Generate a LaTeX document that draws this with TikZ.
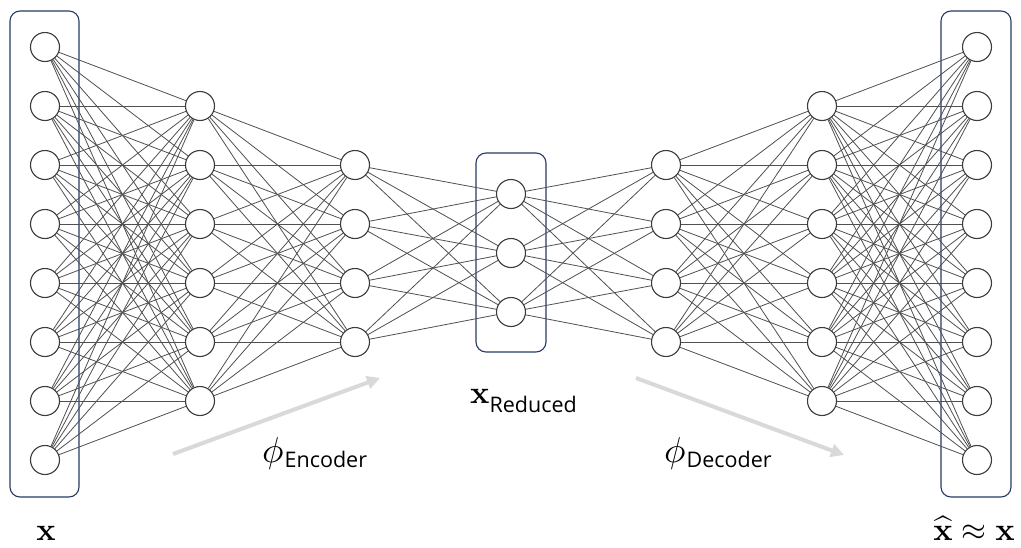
\documentclass[tikz,border=0pt]{standalone}
\usepackage[no-math]{fontspec}
\usepackage{graphicx}
\setmainfont{Open Sans}
\usetikzlibrary{arrows.meta}
\definecolor{edgecol}{RGB}{80,80,80}
\definecolor{circcol}{RGB}{60,60,60}
\definecolor{boxcol}{RGB}{38,60,100}
\definecolor{arrcol}{RGB}{217,217,217}
\tikzset{
  neuron/.style={circle, draw=circcol, fill=white, line width=1.1pt, minimum size=29pt, inner sep=0pt},
  edge/.style={draw=edgecol, line width=0.8pt},
  layerbox/.style={draw=boxcol, line width=1.1pt, rounded corners=10pt, inner sep=0pt},
  flow/.style={draw=arrcol, line width=4pt, -{Triangle[length=13pt,width=13pt]}},
  lbl/.style={inner sep=0pt, anchor=base}
}
\newcommand{\aeBigMath}[1]{\scalebox{3.2}{$#1$}}
\newcommand{\aeSubTxt}[2]{\raisebox{#1}{\fontsize{21.5}{24}\selectfont #2}}
\begin{document}
\begin{tikzpicture}[x=1pt, y=-1pt]
\useasboundingbox (0,0) rectangle (1021,547);
\fill[white] (0,0) rectangle (1021,547);
% boxes
\node[layerbox, minimum width=69pt, minimum height=486pt] (boxin) at (44.5,254) {};
\node[layerbox, minimum width=70pt, minimum height=199pt] (boxmid) at (511,252.5) {};
\node[layerbox, minimum width=70pt, minimum height=486pt] (boxout) at (976,254) {};
% neurons
\foreach \k in {1,...,8} \node[neuron] (a\k) at (45,{47+59*(\k-1)}) {};
\foreach \k in {1,...,6} \node[neuron] (b\k) at (200,{106+59*(\k-1)}) {};
\foreach \k in {1,...,4} \node[neuron] (c\k) at (355,{165+59*(\k-1)}) {};
\foreach \k in {1,...,3} \node[neuron] (d\k) at (511,{194+59*(\k-1)}) {};
\foreach \k in {1,...,4} \node[neuron] (e\k) at (666,{165+59*(\k-1)}) {};
\foreach \k in {1,...,6} \node[neuron] (f\k) at (822,{106+59*(\k-1)}) {};
\foreach \k in {1,...,8} \node[neuron] (g\k) at (977,{47+59*(\k-1)}) {};
% connections
\foreach \i in {1,...,8} \foreach \j in {1,...,6} \draw[edge] (a\i) -- (b\j);
\foreach \i in {1,...,6} \foreach \j in {1,...,4} \draw[edge] (b\i) -- (c\j);
\foreach \i in {1,...,4} \foreach \j in {1,...,3} \draw[edge] (c\i) -- (d\j);
\foreach \i in {1,...,3} \foreach \j in {1,...,4} \draw[edge] (d\i) -- (e\j);
\foreach \i in {1,...,4} \foreach \j in {1,...,6} \draw[edge] (e\i) -- (f\j);
\foreach \i in {1,...,6} \foreach \j in {1,...,8} \draw[edge] (f\i) -- (g\j);
% flow arrows
\coordinate (encS) at (173,454);
\coordinate (encE) at (380,378);
\coordinate (decS) at (636,378);
\coordinate (decE) at (844,455);
\draw[flow] (encS) -- (encE);
\draw[flow] (decS) -- (decE);
% labels
\node[lbl] (lx) at (46,540) {\aeBigMath{\mathbf{x}}};
\node[lbl] (lxhat) at (974,540) {\aeBigMath{\widehat{\mathbf{x}}\approx\mathbf{x}}};
\node[lbl, anchor=base west] (lred) at (470,403) {\aeBigMath{\mathbf{x}}\aeSubTxt{-9pt}{Reduced}};
\node[lbl, anchor=base west] (lenc) at (262,462) {\scalebox{3.6}{$\phi$}\kern1pt\aeSubTxt{-5pt}{Encoder}};
\node[lbl, anchor=base west] (ldec) at (664,462) {\scalebox{3.6}{$\phi$}\kern1pt\aeSubTxt{-5pt}{Decoder}};
\end{tikzpicture}
\end{document}
